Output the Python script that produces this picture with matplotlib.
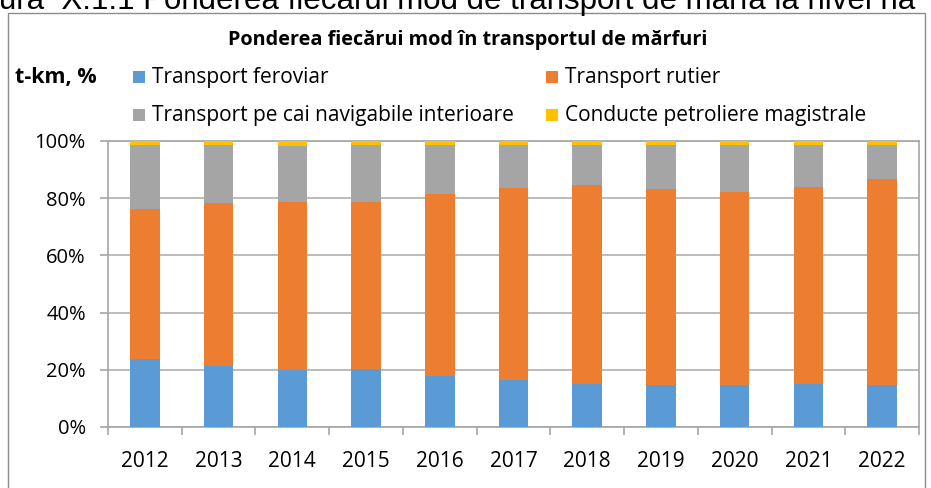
import matplotlib
matplotlib.use("Agg")
import matplotlib.pyplot as plt
from matplotlib.patches import Rectangle
import numpy as np

years = ["2012", "2013", "2014", "2015", "2016", "2017", "2018", "2019", "2020", "2021", "2022"]
# shares (%)
feroviar = [23.7, 21.3, 19.9, 20.4, 17.7, 16.4, 15.0, 14.6, 14.6, 15.0, 14.6]
rutier = [52.6, 56.9, 58.8, 58.4, 63.8, 67.3, 69.5, 68.5, 67.7, 68.9, 72.0]
navigabile = [22.3, 20.5, 19.7, 19.7, 17.2, 15.0, 14.2, 15.6, 16.4, 14.8, 12.1]
conducte = [1.4, 1.3, 1.6, 1.5, 1.3, 1.3, 1.3, 1.3, 1.3, 1.3, 1.3]

series_names = ["Transport feroviar", "Transport rutier",
                "Transport pe cai navigabile interioare", "Conducte petroliere magistrale"]
colors = ["#5B9BD5", "#ED7D31", "#A5A5A5", "#FFC000"]

W, H = 931, 488
fig = plt.figure(figsize=(W / 100, H / 100), dpi=100)
FONT = "Open Sans"

def fx(px):
    return px / W

def fy(py):
    return 1 - py / H

# outer chart border
fig.patches.append(Rectangle((fx(8), fy(492)), fx(925) - fx(8), fy(13) - fy(492),
                             transform=fig.transFigure, fill=False, edgecolor="#8c8c8c", lw=1.0))

# clipped caption at top (as in the reference)
fig.text(fx(-1), fy(9.5), "ura  X.1.1 Ponderea fiecărui mod de transport de marfă la nivel na",
         fontsize=22.5, family="Liberation Sans", va="baseline", ha="left", color="black")

ax = fig.add_axes([fx(108), fy(427), fx(919) - fx(108), fy(141) - fy(427)])

x = np.arange(len(years))
bottom = np.zeros(len(years))
for vals, c, name in zip([feroviar, rutier, navigabile, conducte], colors, series_names):
    v = np.array(vals)
    ax.bar(x, v, width=0.4, bottom=bottom, color=c, label=name, zorder=3)
    bottom += v

ax.set_xlim(-0.5, len(years) - 0.5)
ax.set_ylim(0, 100)
ax.set_yticks(np.arange(0, 101, 20))
ax.set_yticklabels([f"{v}%" for v in range(0, 101, 20)])
ax.yaxis.grid(True, color="#b0b0b0", lw=1.2, zorder=0)
ax.set_xticks(x)
ax.set_xticklabels(years)
ax.set_xticks(np.arange(-0.5, len(years), 1), minor=True)
ax.tick_params(axis="x", which="major", length=0, pad=17, labelsize=15)
ax.tick_params(axis="x", which="minor", length=6, color="#a6a6a6", width=1.2)
ax.tick_params(axis="y", length=6, color="#a6a6a6", width=1.2, pad=10, labelsize=14.5)
for lab in ax.get_xticklabels() + ax.get_yticklabels():
    lab.set_family(FONT)
for s in ax.spines.values():
    s.set_color("#a6a6a6")
    s.set_linewidth(1.2)

# title
fig.text(fx(468), fy(40), "Ponderea fiecărui mod în transportul de mărfuri",
         fontsize=14.3, fontweight="bold", family=FONT, ha="center", va="center")
# unit label
fig.text(fx(15), fy(77), "t-km, %", fontsize=15.5, fontweight="bold", family=FONT,
         ha="left", va="center")

# legend drawn manually
leg_pos = [(133, 77), (546, 77), (133, 115), (546, 115)]
for (px, py), c, name in zip(leg_pos, colors, series_names):
    fig.patches.append(Rectangle((fx(px), fy(py + 6)), fx(12), 12 / H,
                                 transform=fig.transFigure, facecolor=c, edgecolor="none"))
    fig.text(fx(px + 19), fy(py), name, fontsize=15, family=FONT, ha="left", va="center")

fig.savefig("out.png", dpi=100)
